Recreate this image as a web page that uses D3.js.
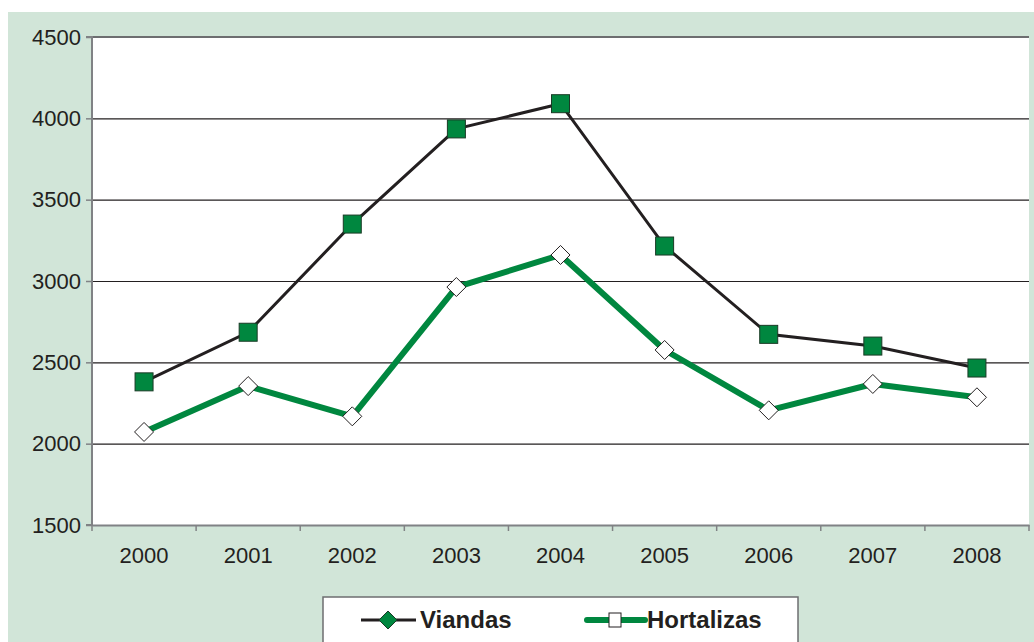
<!DOCTYPE html>
<head>
  <meta charset="utf-8">
  <script src="https://cdnjs.cloudflare.com/ajax/libs/d3/7.8.5/d3.min.js"></script>
</head>

<style>
body {
  margin: 0;
  background-color: #fff;
  font-family: Arial, "Liberation Sans", sans-serif;
}
</style>

<body>
  <svg id='chart' width='1034' height='642'></svg>
</body>

<script>

var years = ['2000', '2001', '2002', '2003', '2004', '2005', '2006', '2007', '2008'];
var viandas = [2380, 2685, 3350, 3935, 4090, 3215, 2672, 2600, 2465];
var hortalizas = [2072, 2354, 2168, 2963, 3160, 2576, 2205, 2367, 2285];
var yTicks = [1500, 2000, 2500, 3000, 3500, 4000, 4500];

var green = '#00873f';
var svg = d3.select('#chart');

// background panel
svg.append('rect')
  .attr('x', 8).attr('y', 12)
  .attr('width', 1026).attr('height', 630)
  .attr('fill', '#d1e5d8');

var pl = 92, pr = 1029, pt = 37, pb = 525;

var x = d3.scaleBand().domain(years).range([pl, pr]);
var y = d3.scaleLinear().domain([1500, 4500]).range([pb, pt]);

svg.append('rect')
  .attr('x', pl).attr('y', pt)
  .attr('width', pr - pl).attr('height', pb - pt)
  .attr('fill', '#fff');

// gridlines
svg.append('g')
  .selectAll('line')
  .data(yTicks.slice(1, -1))
  .enter().append('line')
    .attr('x1', pl).attr('x2', pr)
    .attr('y1', function(d){ return y(d) + 0.5 })
    .attr('y2', function(d){ return y(d) + 0.5 })
    .attr('stroke', '#231f20')
    .attr('stroke-width', 1.2);

// top border
svg.append('line')
  .attr('x1', pl).attr('x2', pr)
  .attr('y1', pt).attr('y2', pt)
  .attr('stroke', '#6d6e70').attr('stroke-width', 2);

var yAxis = svg.append('g')
  .attr('transform', 'translate(' + pl + ',0)')
  .call(d3.axisLeft(y).tickValues(yTicks).tickSize(6).tickPadding(5).tickFormat(d3.format('d')));

var xAxis = svg.append('g')
  .attr('transform', 'translate(0,' + pb + ')')
  .call(d3.axisBottom(x).tickSize(0).tickPadding(22));

// category separators on x axis
svg.append('g')
  .selectAll('line')
  .data(years.map(function(d){ return x(d) }).concat([pr]))
  .enter().append('line')
    .attr('x1', function(d){ return d }).attr('x2', function(d){ return d })
    .attr('y1', pb).attr('y2', pb + 6)
    .attr('stroke', '#808285').attr('stroke-width', 1.5);

[yAxis, xAxis].forEach(function(a) {
  a.select('.domain').attr('stroke', '#808285').attr('stroke-width', 2);
  a.selectAll('.tick line').attr('stroke', '#808285').attr('stroke-width', 1.5);
  a.selectAll('text')
    .attr('font-family', 'Arial, "Liberation Sans", sans-serif')
    .attr('font-size', 22)
    .attr('fill', '#231f20');
});
yAxis.select('.domain').attr('d', 'M-6,' + pt + 'H0V' + pb + 'H-6');

var cx = function(d, i){ return x(years[i]) + x.bandwidth() / 2 };

var line = d3.line()
  .x(function(d, i){ return cx(d, i) })
  .y(function(d){ return y(d) });

svg.append('path')
  .datum(hortalizas)
  .attr('d', line)
  .attr('fill', 'none')
  .attr('stroke', green)
  .attr('stroke-width', 6)
  .attr('stroke-linejoin', 'round');

svg.append('path')
  .datum(viandas)
  .attr('d', line)
  .attr('fill', 'none')
  .attr('stroke', '#231f20')
  .attr('stroke-width', 3);

svg.append('g')
  .selectAll('rect')
  .data(viandas)
  .enter().append('rect')
    .attr('x', function(d, i){ return cx(d, i) - 9 })
    .attr('y', function(d){ return y(d) - 9 })
    .attr('width', 18).attr('height', 18)
    .attr('fill', green)
    .attr('stroke', '#1a3a26').attr('stroke-width', 1);

svg.append('g')
  .selectAll('path')
  .data(hortalizas)
  .enter().append('path')
    .attr('transform', function(d, i){ return 'translate(' + cx(d, i) + ',' + y(d) + ')' })
    .attr('d', 'M0,-9.5L9.5,0L0,9.5L-9.5,0Z')
    .attr('fill', '#fff')
    .attr('stroke', '#231f20').attr('stroke-width', 1);

// legend
var lg = svg.append('g');
lg.append('rect')
  .attr('x', 323).attr('y', 597)
  .attr('width', 475).attr('height', 56)
  .attr('fill', '#fff')
  .attr('stroke', '#6d6e70').attr('stroke-width', 1.5);

lg.append('line')
  .attr('x1', 361).attr('x2', 416).attr('y1', 620).attr('y2', 620)
  .attr('stroke', '#231f20').attr('stroke-width', 3);
lg.append('path')
  .attr('d', 'M388,611L397,620L388,629L379,620Z')
  .attr('fill', green).attr('stroke', '#1a3a26').attr('stroke-width', 1);
lg.append('text')
  .attr('x', 420).attr('y', 628)
  .attr('font-size', 24).attr('font-weight', 'bold').attr('fill', '#231f20')
  .text('Viandas');

lg.append('line')
  .attr('x1', 587).attr('x2', 645).attr('y1', 620).attr('y2', 620)
  .attr('stroke', green).attr('stroke-width', 6).attr('stroke-linecap', 'round');
lg.append('rect')
  .attr('x', 609).attr('y', 613).attr('width', 12).attr('height', 14)
  .attr('fill', '#fff').attr('stroke', '#231f20').attr('stroke-width', 1);
lg.append('text')
  .attr('x', 647).attr('y', 628)
  .attr('font-size', 24).attr('font-weight', 'bold').attr('fill', '#231f20')
  .text('Hortalizas');

</script>
